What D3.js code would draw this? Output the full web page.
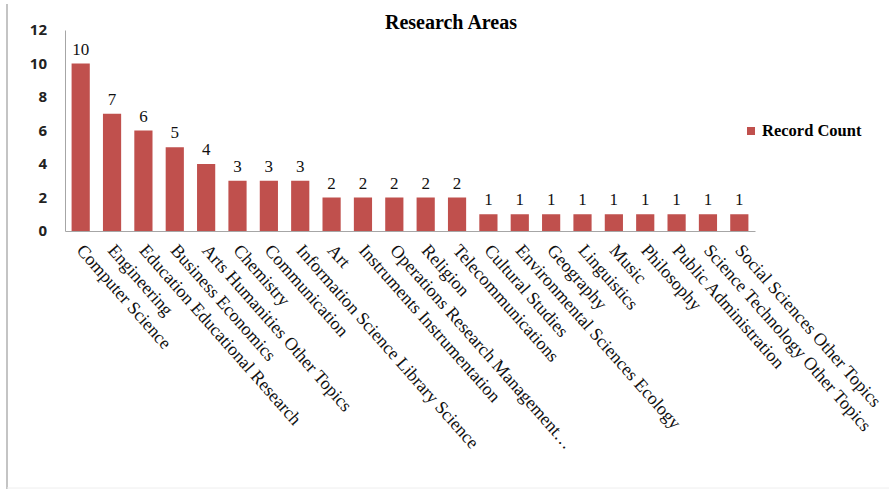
<!DOCTYPE html>
<html>
<head>
<meta charset="utf-8">
<script src="https://cdn.jsdelivr.net/npm/d3@7"></script>
<style>
  body { margin: 0; background: #fff; }
</style>
</head>
<body>
<div class="chart"></div>
<script>
// Research areas, record counts
const areas = [
  'Computer Science', 'Engineering', 'Education Educational Research',
  'Business Economics', 'Arts Humanities Other Topics', 'Chemistry',
  'Communication', 'Information Science Library Science', 'Art',
  'Instruments Instrumentation', 'Operations Research Management…',
  'Religion', 'Telecommunications', 'Cultural Studies',
  'Environmental Sciences Ecology', 'Geography', 'Linguistics', 'Music',
  'Philosophy', 'Public Administration', 'Science Technology Other Topics',
  'Social Sciences Other Topics'
];
const counts = [10, 7, 6, 5, 4, 3, 3, 3, 2, 2, 2, 2, 2, 1, 1, 1, 1, 1, 1, 1, 1, 1];
const yTicks = [0, 2, 4, 6, 8, 10, 12];

const W = 889, H = 493;
const margin = { top: 30, left: 65, right: 134, bottom: 262 };
const width = W - margin.left - margin.right;
const height = H - margin.top - margin.bottom;
const serif = '"Liberation Serif", "Times New Roman", serif';

const svg = d3.select('.chart').append('svg')
  .attr('width', W)
  .attr('height', H);

// faint frame of the original picture
svg.append('line')
  .attr('x1', 7).attr('x2', 7).attr('y1', 4).attr('y2', 489)
  .attr('stroke', '#c4c4c4').attr('stroke-width', 2);
svg.append('line')
  .attr('x1', 7).attr('x2', W).attr('y1', 488).attr('y2', 488)
  .attr('stroke', '#eeeeee');

const g = svg.append('g')
  .attr('transform', `translate(${margin.left}, ${margin.top})`);

const x = d3.scaleBand().domain(areas).range([0, width]).paddingInner(0.42).paddingOuter(0.21);
const y = d3.scaleLinear().domain([0, 12]).range([height, 0]);

svg.append('text')
  .attr('x', 451).attr('y', 29)
  .attr('text-anchor', 'middle')
  .style('font-family', serif).style('font-weight', 'bold').style('font-size', '20px')
  .text('Research Areas');

// y axis
const yAxis = g.append('g')
  .call(d3.axisLeft(y).tickValues(yTicks).tickSize(0).tickPadding(18));
yAxis.select('.domain').attr('stroke', '#a6a6a6');
yAxis.selectAll('text')
  .style('font-family', '"Open Sans", sans-serif')
  .style('font-weight', 'bold').style('font-size', '15px').attr('fill', '#222');

// bars
g.selectAll('.bar')
  .data(counts)
  .enter().append('rect')
  .attr('class', 'bar')
  .attr('x', (d, i) => x(areas[i]))
  .attr('width', x.bandwidth())
  .attr('y', d => y(d))
  .attr('height', d => height - y(d))
  .attr('fill', '#c0504d');

// x axis line
const xAxis = g.append('g')
  .attr('transform', `translate(0, ${height})`)
  .call(d3.axisBottom(x).tickSize(0).tickFormat(''));
xAxis.select('.domain').attr('stroke', '#a6a6a6');

// value labels
g.selectAll('.val')
  .data(counts)
  .enter().append('text')
  .attr('class', 'val')
  .attr('x', (d, i) => x(areas[i]) + x.bandwidth() / 2)
  .attr('y', d => y(d) - 9)
  .attr('text-anchor', 'middle')
  .style('font-family', serif).style('font-size', '17px').attr('fill', '#111')
  .text(d => d);

// category labels
g.selectAll('.cat')
  .data(areas)
  .enter().append('text')
  .attr('class', 'cat')
  .attr('transform', d => `translate(${x(d) + x.bandwidth() / 2 - 5}, ${height + 20}) rotate(48.5)`)
  .style('font-family', serif).style('font-size', '18px').attr('fill', '#111')
  .text(d => d);

// legend
const legend = svg.append('g').attr('transform', 'translate(747, 127)');
legend.append('rect').attr('width', 8).attr('height', 8).attr('fill', '#c0504d');
legend.append('text')
  .attr('x', 15).attr('y', 9)
  .style('font-family', serif).style('font-weight', 'bold').style('font-size', '16.5px')
  .text('Record Count');
</script>
</body>
</html>
